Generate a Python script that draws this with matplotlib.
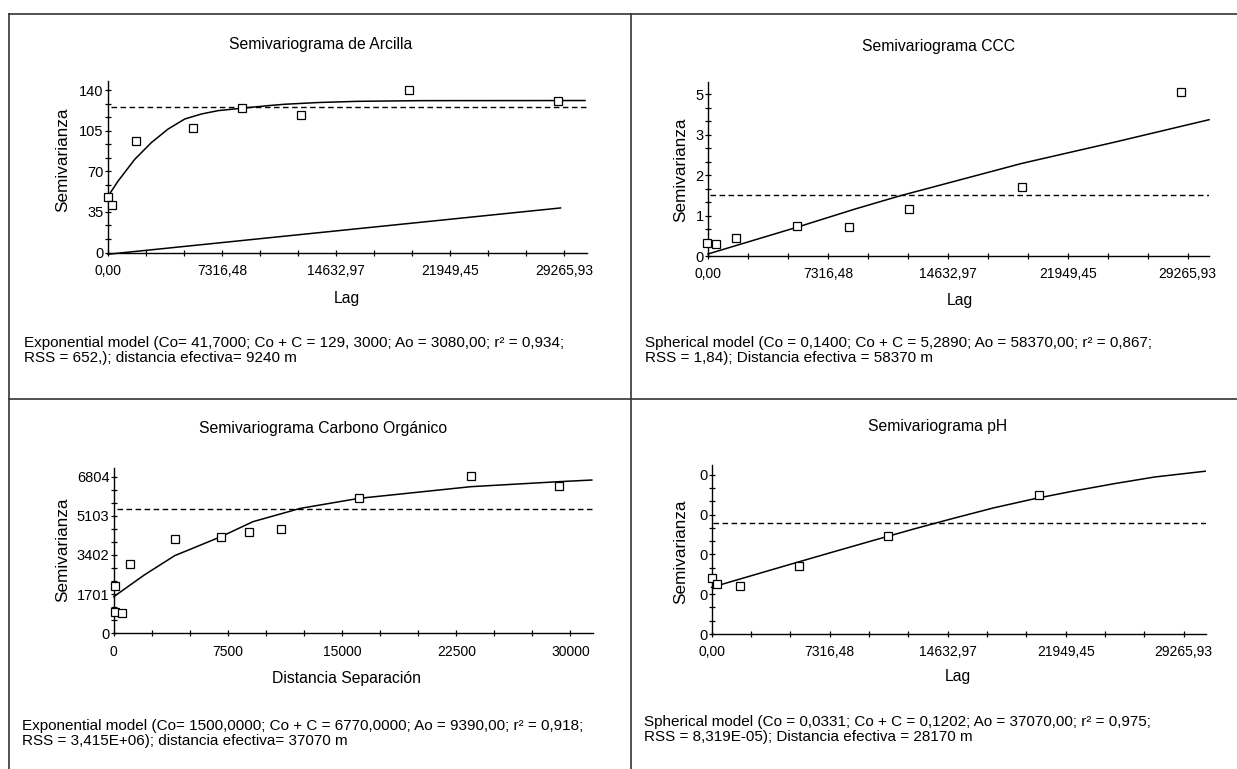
import matplotlib
matplotlib.use('Agg')
import matplotlib.pyplot as plt
import matplotlib.ticker as mticker
from matplotlib.lines import Line2D

plt.rcParams['font.family'] = ['Liberation Sans', 'DejaVu Sans']

W, H = 1237, 769

# ---------------------------------------------------------------
# data
# ---------------------------------------------------------------
lag_ticks = [0, 7316.48, 14632.97, 21949.45, 29265.93]
lag_labels = ['0,00', '7316,48', '14632,97', '21949,45', '29265,93']
dist_ticks = [0, 7500, 15000, 22500, 30000]
dist_labels = ['0', '7500', '15000', '22500', '30000']

# Arcilla
arc_lag = [25, 282, 1779, 5459, 8606, 12366, 19310, 28862]
arc_sv = [47.6, 41.0, 96.2, 107.0, 124.4, 118.3, 140.1, 130.9]
arc_fit_lag = [0, 642, 1715, 2787, 3853, 4926, 5998, 7064, 8606, 10275, 11347, 13500, 16000, 20000, 30611]
arc_fit_sv = [48.4, 61.5, 80.3, 94.8, 106.4, 115.1, 119.4, 122.3, 124.4, 126.6, 127.8, 129.3, 130.3, 130.9, 131.0]
arc_lin_lag = [0, 29040]
arc_lin_sv = [-1.5, 38.4]
arc_sill_lag = [218, 30712]
arc_sill = 125.2
arc_yticks = [0, 35, 70, 105, 140]
arc_ylabels = ['0', '35', '70', '105', '140']

# CCC
ccc_lag = [-40, 458, 1686, 5420, 8576, 12262, 19152, 28836]
ccc_sv = [0.33, 0.30, 0.45, 0.74, 0.71, 1.16, 1.70, 4.06]
ccc_fit_lag = [0, 5420, 8961, 11732, 19152, 24861, 30570]
ccc_fit_sv = [0.05, 0.71, 1.16, 1.49, 2.29, 2.82, 3.37]
ccc_sill_lag = [122, 30570]
ccc_sill = 1.51
ccc_yticks = [0, 1, 2, 3, 4]
ccc_ylabels = ['0', '1', '2', '3', '5']

# Carbono organico
co_lag = [78, 52, 571, 1039, 4000, 7038, 8856, 10960, 16101, 23450, 29216]
co_sv = [2041, 941, 898, 3011, 4097, 4184, 4415, 4517, 5863, 6848, 6413]
co_fit_lag = [0, 2000, 4000, 7038, 9141, 12258, 16101, 23450, 29216, 31398]
co_fit_sv = [1592, 2533, 3373, 4198, 4850, 5429, 5863, 6370, 6587, 6659]
co_sill_lag = [180, 31478]
co_sill = 5414
co_yticks = [0, 1701, 3402, 5103, 6804]
co_ylabels = ['0', '1701', '3402', '5103', '6804']

# pH
ph_lag = [0, 351, 1774, 5446, 10913, 20300]
ph_sv = [0.0420, 0.0377, 0.0365, 0.0510, 0.0737, 0.1049]
ph_fit_lag = [0, 2500, 5000, 7500, 10000, 12500, 15000, 17500, 20000, 22500, 25000, 27500, 30600]
ph_fit_sv = [0.0352, 0.0441, 0.0530, 0.0618, 0.0705, 0.0791, 0.0873, 0.0952, 0.1020, 0.1080, 0.1135, 0.1185, 0.1228]
ph_sill_lag = [60, 30650]
ph_sill = 0.0835
ph_yticks = [0, 0.03, 0.06, 0.09, 0.12]
ph_ylabels = ['0', '0', '0', '0', '0']


def px_axes(fig, left, top, right, bottom):
    return fig.add_axes([left / W, 1 - bottom / H, (right - left) / W, (bottom - top) / H])


def ftext(fig, x, y, s, **kw):
    fig.text(x / W, 1 - y / H, s, **kw)


def draw_panel(ax, lag, sv, fit_lag, fit_sv, sill_lag, sill, xmax, ymax,
               xticks, xlabels, xminor, yticks, ylabels):
    ax.plot(fit_lag, fit_sv, color='black', lw=1.1, clip_on=False, zorder=3)
    ax.plot(sill_lag, [sill, sill], color='black', lw=1.0, linestyle=(0, (4.0, 2.5)), zorder=3)
    ax.plot(lag, sv, linestyle='none', marker='s', ms=5.5, mfc='white', mec='black',
            mew=0.9, clip_on=False, zorder=5)
    ax.set_xlim(0, xmax)
    ax.set_ylim(0, ymax)
    ax.set_xticks(xticks)
    ax.set_xticklabels(xlabels)
    ax.set_yticks(yticks)
    ax.set_yticklabels(ylabels)
    ax.xaxis.set_minor_locator(mticker.MultipleLocator(xminor))
    ax.yaxis.set_minor_locator(mticker.MultipleLocator((yticks[1] - yticks[0]) / 3.0))
    for s in ('top', 'right'):
        ax.spines[s].set_visible(False)
    for s in ('left', 'bottom'):
        ax.spines[s].set_linewidth(1.0)
    ax.tick_params(which='both', direction='inout', length=4.2, width=0.9, color='black')
    ax.tick_params(axis='x', which='major', pad=6, labelsize=10)
    ax.tick_params(axis='y', which='major', pad=1, labelsize=10.5)
    ax.patch.set_visible(False)


fig = plt.figure(figsize=(W / 100, H / 100), dpi=100)

# table borders
lc = '#333333'
for (x0, y0, x1, y1) in [(8.7, 14, 1237, 14), (8.7, 399, 1237, 399),
                         (8.7, 14, 8.7, 769), (631, 14, 631, 769)]:
    fig.add_artist(Line2D([x0 / W, x1 / W], [1 - y0 / H, 1 - y1 / H], color=lc, lw=1.2))

# Arcilla
ax1 = px_axes(fig, 108, 80.7, 586.6, 252.5)
draw_panel(ax1, arc_lag, arc_sv, arc_fit_lag, arc_fit_sv, arc_sill_lag, arc_sill,
           30712, 148.1, lag_ticks, lag_labels, 7316.48 / 3, arc_yticks, arc_ylabels)
ax1.plot(arc_lin_lag, arc_lin_sv, color='black', lw=1.1, clip_on=False, zorder=3)
ftext(fig, 321, 45, 'Semivariograma de Arcilla', ha='center', va='center', fontsize=11.3)
ftext(fig, 347, 298, 'Lag', ha='center', va='center', fontsize=11.3)
ftext(fig, 63, 160, 'Semivarianza', ha='center', va='center', rotation=90, fontsize=12.3)
ftext(fig, 23.7, 342.5, 'Exponential model (Co= 41,7000; Co + C = 129, 3000; Ao = 3080,00; r\u00b2 = 0,934;',
      ha='left', va='center', fontsize=11)
ftext(fig, 23.7, 357.5, 'RSS = 652,); distancia efectiva= 9240 m', ha='left', va='center', fontsize=11)

# CCC
ax2 = px_axes(fig, 708, 81.7, 1209, 256)
draw_panel(ax2, ccc_lag, ccc_sv, ccc_fit_lag, ccc_fit_sv, ccc_sill_lag, ccc_sill,
           30570, 4.31, lag_ticks, lag_labels, 7316.48 / 3, ccc_yticks, ccc_ylabels)
ftext(fig, 938, 47, 'Semivariograma CCC', ha='center', va='center', fontsize=11.3)
ftext(fig, 959.5, 300, 'Lag', ha='center', va='center', fontsize=11.3)
ftext(fig, 681, 170, 'Semivarianza', ha='center', va='center', rotation=90, fontsize=12.3)
ftext(fig, 645, 342.5, 'Spherical model (Co = 0,1400; Co + C = 5,2890; Ao = 58370,00; r\u00b2 = 0,867;',
      ha='left', va='center', fontsize=11)
ftext(fig, 645, 357.5, 'RSS = 1,84); Distancia efectiva = 58370 m', ha='left', va='center', fontsize=11)

# Carbono organico
ax3 = px_axes(fig, 113.8, 467.7, 593, 633.3)
draw_panel(ax3, co_lag, co_sv, co_fit_lag, co_fit_sv, co_sill_lag, co_sill,
           31478, 7195, dist_ticks, dist_labels, 2500, co_yticks, co_ylabels)
ftext(fig, 323, 428.3, 'Semivariograma Carbono Org\u00e1nico', ha='center', va='center', fontsize=11.3)
ftext(fig, 347, 678.3, 'Distancia Separaci\u00f3n', ha='center', va='center', fontsize=11.3)
ftext(fig, 63, 550, 'Semivarianza', ha='center', va='center', rotation=90, fontsize=12.3)
ftext(fig, 21.7, 726, 'Exponential model (Co= 1500,0000; Co + C = 6770,0000; Ao = 9390,00; r\u00b2 = 0,918;',
      ha='left', va='center', fontsize=11)
ftext(fig, 21.7, 741.5, 'RSS = 3,415E+06); distancia efectiva= 37070 m', ha='left', va='center', fontsize=11)

# pH
ax4 = px_axes(fig, 711.6, 465, 1206, 634)
draw_panel(ax4, ph_lag, ph_sv, ph_fit_lag, ph_fit_sv, ph_sill_lag, ph_sill,
           30650, 0.1275, lag_ticks, lag_labels, 7316.48 / 3, ph_yticks, ph_ylabels)
ftext(fig, 938, 426.7, 'Semivariograma pH', ha='center', va='center', fontsize=11.3)
ftext(fig, 957.5, 676.7, 'Lag', ha='center', va='center', fontsize=11.3)
ftext(fig, 681, 551.7, 'Semivarianza', ha='center', va='center', rotation=90, fontsize=12.3)
ftext(fig, 644, 722, 'Spherical model (Co = 0,0331; Co + C = 0,1202; Ao = 37070,00; r\u00b2 = 0,975;',
      ha='left', va='center', fontsize=11)
ftext(fig, 644, 737.5, 'RSS = 8,319E-05); Distancia efectiva = 28170 m', ha='left', va='center', fontsize=11)

fig.savefig('out.png', dpi=100)
